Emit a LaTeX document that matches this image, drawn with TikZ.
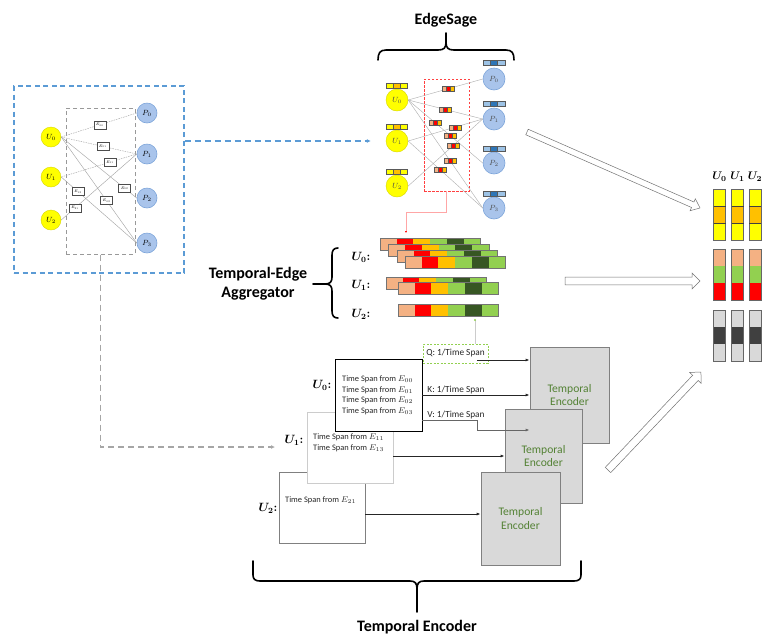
\RequirePackage{fix-cm}
\documentclass[tikz,border=0pt]{standalone}
\usepackage{fontspec}
\setmainfont{Carlito}
\usepackage{bm}
\usetikzlibrary{arrows.meta,calc}

\definecolor{cYel}{HTML}{FFFF00}
\definecolor{cYelB}{HTML}{D6D600}
\definecolor{cOrg}{HTML}{FFC000}
\definecolor{cTan}{HTML}{F4B183}
\definecolor{cRed}{HTML}{FF0000}
\definecolor{cLg}{HTML}{92D050}
\definecolor{cDg}{HTML}{375623}
\definecolor{cLgray}{HTML}{D9D9D9}
\definecolor{cDgray}{HTML}{404040}
\definecolor{cPfill}{HTML}{A9C4EB}
\definecolor{cPdraw}{HTML}{7DA5DA}
\definecolor{cBlueL}{HTML}{9DC3E6}
\definecolor{cBlueD}{HTML}{2E75B6}
\definecolor{cDash}{HTML}{5B9BD5}
\definecolor{cTeGreen}{HTML}{548235}
\definecolor{cEnc}{HTML}{D9D9D9}

\tikzset{
  outerbox/.style={draw=cDash, line width=1.2pt, dash pattern=on 5pt off 3.5pt, inner sep=0pt},
  innerbox/.style={draw=black!40, line width=1pt, dash pattern=on 4pt off 3pt, inner sep=0pt},
  unode/.style={circle, fill=cYel, draw=cYelB, line width=0.4pt, inner sep=0pt,
    minimum size=20pt, font=\fontsize{7.5}{8}\selectfont},
  pnode/.style={circle, fill=cPfill, draw=cPdraw, line width=0.6pt, inner sep=0pt,
    minimum size=20pt, font=\fontsize{7.5}{8}\selectfont},
  ebox/.style={rectangle, solid, draw=black!70, fill=white, line width=0.4pt, minimum width=12pt,
    minimum height=8pt, inner sep=0pt, font=\fontsize{3.6}{4}\selectfont},
  gline/.style={draw=black!35, line width=0.45pt},
  gdash/.style={gline, dash pattern=on 1.5pt off 1pt},
  esline/.style={draw=black!30, line width=0.45pt},
  hbar/.style n args={3}{rectangle, draw=black!65, line width=0.35pt, inner sep=0pt,
    path picture={
      \fill[#1] (path picture bounding box.south west) rectangle
        ($(path picture bounding box.north west)!0.3333!(path picture bounding box.north east)$);
      \fill[#2] ($(path picture bounding box.south west)!0.3333!(path picture bounding box.south east)$) rectangle
        ($(path picture bounding box.north west)!0.6667!(path picture bounding box.north east)$);
      \fill[#3] ($(path picture bounding box.south west)!0.6667!(path picture bounding box.south east)$) rectangle
        (path picture bounding box.north east);
      \draw[black!65, line width=0.35pt]
        ($(path picture bounding box.south west)!0.3333!(path picture bounding box.south east)$) --
        ($(path picture bounding box.north west)!0.3333!(path picture bounding box.north east)$)
        ($(path picture bounding box.south west)!0.6667!(path picture bounding box.south east)$) --
        ($(path picture bounding box.north west)!0.6667!(path picture bounding box.north east)$);
    }},
  ebar/.style={hbar={cTan}{cRed}{cOrg}, minimum width=12pt, minimum height=5pt},
  title/.style={font=\fontsize{16}{19}\selectfont\bfseries, inner sep=0pt},
  rowlabel/.style={font=\fontsize{12}{14}\selectfont, inner sep=0pt},
  bracepath/.style={draw=black, line width=1.6pt, line cap=round},
  encbox/.style={rectangle, fill=cEnc, draw=black!50, line width=0.8pt, inner sep=0pt,
    text=cTeGreen, align=center, font=\fontsize{11.6}{13.8}\selectfont},
  spanbox/.style={rectangle, fill=white, inner sep=0pt},
  tspan/.style={anchor=west, inner sep=0pt, font=\fontsize{8.4}{10}\selectfont, text=black!85},
  kqv/.style={inner sep=0pt, font=\fontsize{9.3}{11}\selectfont, text=black!85},
  conn/.style={draw=black!85, line width=0.8pt, -{Latex[length=4pt,width=3pt]}},
  harrow/.style={draw=black!55, fill=white, line width=0.5pt, line join=miter},
}

% one six-cell temporal edge strip (left x, top y)
\newcommand\aggbar[2]{%
  \foreach \cc [count=\ii from 0] in {cTan,cRed,cOrg,cLg,cDg,cLg}
    \fill[\cc] ({#1+\ii*16.7},#2) rectangle ++(16.7,12);
  \draw[black!55, line width=0.4pt] (#1,#2) rectangle ++(100.2,12);}

% one three-cell output embedding column (left x, top y, fills)
\newcommand\outvec[5]{%
  \fill[#3] (#1,#2) rectangle ++(12,17);
  \fill[#4] (#1,{#2+17}) rectangle ++(12,17);
  \fill[#5] (#1,{#2+34}) rectangle ++(12,17);
  \draw[black!60, line width=0.5pt] (#1,#2) rectangle ++(12,51);}

% hollow block arrow (start, angle, length, shaft half width, head half width)
\newcommand\drawhollowarrow[5]{%
  \begin{scope}[shift={#1}, rotate=#2]
    \draw[harrow] (0,-#4) -- ({#3-8},-#4) -- ({#3-8},-#5) -- (#3,0)
      -- ({#3-8},#5) -- ({#3-8},#4) -- (0,#4) -- cycle;
  \end{scope}}

% bold user label followed by a colon
\newcommand\ulab[1]{$\bm{U_{#1}}\bm{{:}}$}

\begin{document}
\begin{tikzpicture}[x=1pt, y=-1pt]
\useasboundingbox (0,0) rectangle (784,641);

% ================= bipartite user / POI graph
\node[outerbox, minimum width=170pt, minimum height=187pt] (lbbox) at (99,179.5) {};
\node[innerbox, minimum width=69pt, minimum height=146pt] (lgbox) at (100.5,181) {};

\node[unode] (lu0) at (51,137) {$U_0$};
\node[unode] (lu1) at (51,177) {$U_1$};
\node[unode] (lu2) at (51,220) {$U_2$};
\node[pnode] (lp0) at (147,113) {$P_0$};
\node[pnode] (lp1) at (147,154) {$P_1$};
\node[pnode] (lp2) at (147,198) {$P_2$};
\node[pnode] (lp3) at (147,243) {$P_3$};

\draw[gdash] (lu0.east) -- node[ebox, pos=0.51] (le00) {$E_{00}$} (lp0.west);
\draw[gdash] (lu0.east) -- node[ebox, pos=0.55] (le01) {$E_{01}$} (lp1.west);
\draw[gline] (lu0.east) -- node[ebox, pos=0.84] (le02) {$E_{02}$} (lp2.west);
\draw[gline] (lu0.east) -- node[ebox, pos=0.60] (le03) {$E_{03}$} (lp3.west);
\draw[gdash] (lu1.east) -- node[ebox, pos=0.645] (le11) {$E_{11}$} (lp1.west);
\draw[gline] (lu1.east) -- node[ebox, pos=0.22] (le13) {$E_{13}$} (lp3.west);
\draw[gline] (lu2.east) -- node[ebox, pos=0.18] (le21) {$E_{21}$} (lp1.west);

% ================= EdgeSage
\node[title] (esTitle) at (446,20) {EdgeSage};
\draw[bracepath] (378,60) .. controls (378,53) and (380,50) .. (386,50) -- (438,50)
  .. controls (444,50) and (446,48) .. (446,42) -- (446,33);
\draw[bracepath] (514,60) .. controls (514,53) and (512,50) .. (506,50) -- (454,50)
  .. controls (448,50) and (446,48) .. (446,42);

\node[rectangle, draw=cRed!75, line width=0.6pt, dash pattern=on 2.5pt off 1.5pt,
  minimum width=45pt, minimum height=112pt, inner sep=0pt] (redbox) at (446.5,135) {};

\node[unode, minimum size=22pt, text=black!70] (eu0) at (397,100) {$U_0$};
\node[unode, minimum size=22pt, text=black!70] (eu1) at (397,141) {$U_1$};
\node[unode, minimum size=22pt, text=black!70] (eu2) at (397,186) {$U_2$};
\node[pnode, minimum size=22pt, text=black!70] (ep0) at (494,79) {$P_0$};
\node[pnode, minimum size=22pt, text=black!70] (ep1) at (494,119) {$P_1$};
\node[pnode, minimum size=22pt, text=black!70] (ep2) at (494,163) {$P_2$};
\node[pnode, minimum size=22pt, text=black!70] (ep3) at (494,208) {$P_3$};

\foreach \n/\yy in {eu0v/85.5, eu1v/126.5, eu2v/171.5}
  \node[hbar={cYel}{cOrg}{cYel}, minimum width=21pt, minimum height=5pt] (\n) at (397,\yy) {};
\foreach \n/\yy in {ep0v/63, ep1v/104, ep2v/149, ep3v/193.5}
  \node[hbar={cBlueL}{cBlueD}{cBlueL}, minimum width=22pt, minimum height=5pt] (\n) at (494,\yy) {};

\draw[esline] (eu0.east) -- node[ebar, pos=0.533] (eb1) {} (ep0.west);
\draw[esline] (eu0.east) -- node[ebar, pos=0.493] (eb2) {} (ep1.west);
\draw[esline] (eu0.east) -- node[ebar, pos=0.36] (eb3) {} node[ebar, pos=0.56] (eb4) {} (ep2.west);
\draw[esline] (eu0.east) -- node[ebar, pos=0.56] (eb5) {} (ep3.west);
\draw[esline] (eu1.east) -- node[ebar, pos=0.627] (eb6) {} (ep1.west);
\draw[esline] (eu1.east) -- node[ebar, pos=0.427] (eb7) {} (ep3.west);
\draw[esline] (eu2.east) -- node[ebar, pos=0.60] (eb8) {} (ep1.west);

% graph hand-off arrows
\draw[draw=cDash, line width=1.2pt, dash pattern=on 6pt off 4pt, shorten >=15pt,
  -{Latex[length=4pt,width=4pt]}] (lbbox.east |- eu1) -- (eu1.west);
\coordinate (tein) at (275,447);
\draw[draw=black!35, line width=1.2pt, dash pattern=on 6pt off 4pt,
  -{Latex[length=4pt,width=4pt]}] (lgbox.south) |- (tein);

% ================= Temporal-Edge Aggregator
\node[title, align=center] (agTitle) at (258,284) {Temporal-Edge\\Aggregator};
\draw[bracepath] (338,248) .. controls (334,248) and (332,250) .. (332,255) -- (332,277)
  .. controls (332,282) and (330,284) .. (325,284) -- (313,284);
\draw[bracepath] (338,318) .. controls (334,318) and (332,316) .. (332,311) -- (332,291)
  .. controls (332,286) and (330,284) .. (325,284);

\node[rowlabel] (agu0) at (361,257) {\ulab{0}};
\node[rowlabel] (agu1) at (361,285) {\ulab{1}};
\node[rowlabel] (agu2) at (361,314) {\ulab{2}};

\aggbar{380}{238}
\aggbar{388.5}{244}
\aggbar{397}{250}
\aggbar{405}{256}
\aggbar{386}{277}
\aggbar{398}{282}
\aggbar{398}{304}

\coordinate (aggin) at (406,233);
\draw[draw=cRed!35, line width=0.6pt, -{Latex[length=2pt,width=2pt,color=cRed]}]
  (redbox.south) |- (406,212) -- (aggin);

% ================= Temporal Encoder stack
\node[encbox, minimum width=79pt, minimum height=96pt] (encA) at (569.5,395) {Temporal\\Encoder};
\node[encbox, minimum width=77pt, minimum height=94pt] (encB) at (543.5,456) {Temporal\\Encoder};
\node[encbox, minimum width=79pt, minimum height=93pt] (encC) at (520.5,518.5) {Temporal\\Encoder};

\node[spanbox, draw=black!50, line width=0.6pt, minimum width=86pt, minimum height=71pt] (ute2) at (322,507.5) {};
\node[spanbox, draw=black!20, line width=0.6pt, minimum width=86pt, minimum height=71pt] (ute1) at (350,447.5) {};
\node[spanbox, draw=black, line width=0.9pt, minimum width=87pt, minimum height=72pt] (ute0) at (378.5,395) {};

\node[tspan] (ts00) at (342,379) {Time Span from $E_{00}$};
\node[tspan] (ts01) at (342,390) {Time Span from $E_{01}$};
\node[tspan] (ts02) at (342,400.5) {Time Span from $E_{02}$};
\node[tspan] (ts03) at (342,411) {Time Span from $E_{03}$};
\node[tspan] (ts11) at (313,437) {Time Span from $E_{11}$};
\node[tspan] (ts13) at (313,448) {Time Span from $E_{13}$};
\node[tspan] (ts21) at (285,500) {Time Span from $E_{21}$};

\node[rowlabel] (teu0) at (322,385) {\ulab{0}};
\node[rowlabel] (teu1) at (294,440) {\ulab{1}};
\node[rowlabel] (teu2) at (268,508) {\ulab{2}};

\node[kqv, draw=cLg, line width=0.8pt, dash pattern=on 2pt off 1.5pt,
  minimum width=65pt, minimum height=19pt] (qbox) at (455.5,353.5) {Q: 1/Time Span};
\node[kqv] (klab) at (456,390) {K: 1/Time Span};
\node[kqv] (vlab) at (456,415) {V: 1/Time Span};

\coordinate (gdot) at (475,320);
\draw[draw=black!20, line width=0.6pt] (gdot) -- (qbox.north -| gdot);
\fill[cLg] (gdot) circle (1.2);

\coordinate (qsrc) at (477,360);
\coordinate (vsrc) at (422,420);
\coordinate (vbend) at (477,430);
\coordinate (u2out) at (365,514);
\draw[conn] (qsrc) -- (encA.west |- qsrc);
\draw[conn] (ute0.east) -- (encA.west);
\draw[conn, draw=black!60] (vsrc) -| (vbend) -- (encA.west |- vbend);
\draw[conn] (ute1.east |- encB.west) -- (encB.west);
\draw[conn] (u2out) -- (encC.west |- u2out);

\node[title] (teTitle) at (417,627) {Temporal Encoder};
\draw[bracepath] (253,561) -- (253,575) .. controls (253,579) and (255,581) .. (260,581) -- (410,581)
  .. controls (415,581) and (417,583) .. (417,589) -- (417,612);
\draw[bracepath] (581,561) -- (581,575) .. controls (581,579) and (579,581) .. (574,581) -- (424,581)
  .. controls (419,581) and (417,583) .. (417,589);

% ================= hand-off block arrows
\drawhollowarrow{(527,132)}{-23.7}{189}{3}{6.5}
\drawhollowarrow{(565,281)}{0}{135}{3.8}{8}
\drawhollowarrow{(608,470)}{46.5}{135}{3.8}{8}

% ================= final user embeddings
\node[rowlabel, font=\fontsize{11}{13}\selectfont] (ou0) at (719.5,177) {$\bm{U_0}$};
\node[rowlabel, font=\fontsize{11}{13}\selectfont] (ou1) at (737.5,177) {$\bm{U_1}$};
\node[rowlabel, font=\fontsize{11}{13}\selectfont] (ou2) at (755,177) {$\bm{U_2}$};

\foreach \xx in {713.5,731.5,749}{
  \outvec{\xx}{189}{cYel}{cOrg}{cYel}
  \draw[black!75, line width=0.5pt] (\xx,206) -- ++(12,0) (\xx,223) -- ++(12,0);
  \outvec{\xx}{249}{cTan}{cLg}{cRed}
  \outvec{\xx}{310}{cLgray}{cDgray}{cLgray}
}
\end{tikzpicture}
\end{document}
